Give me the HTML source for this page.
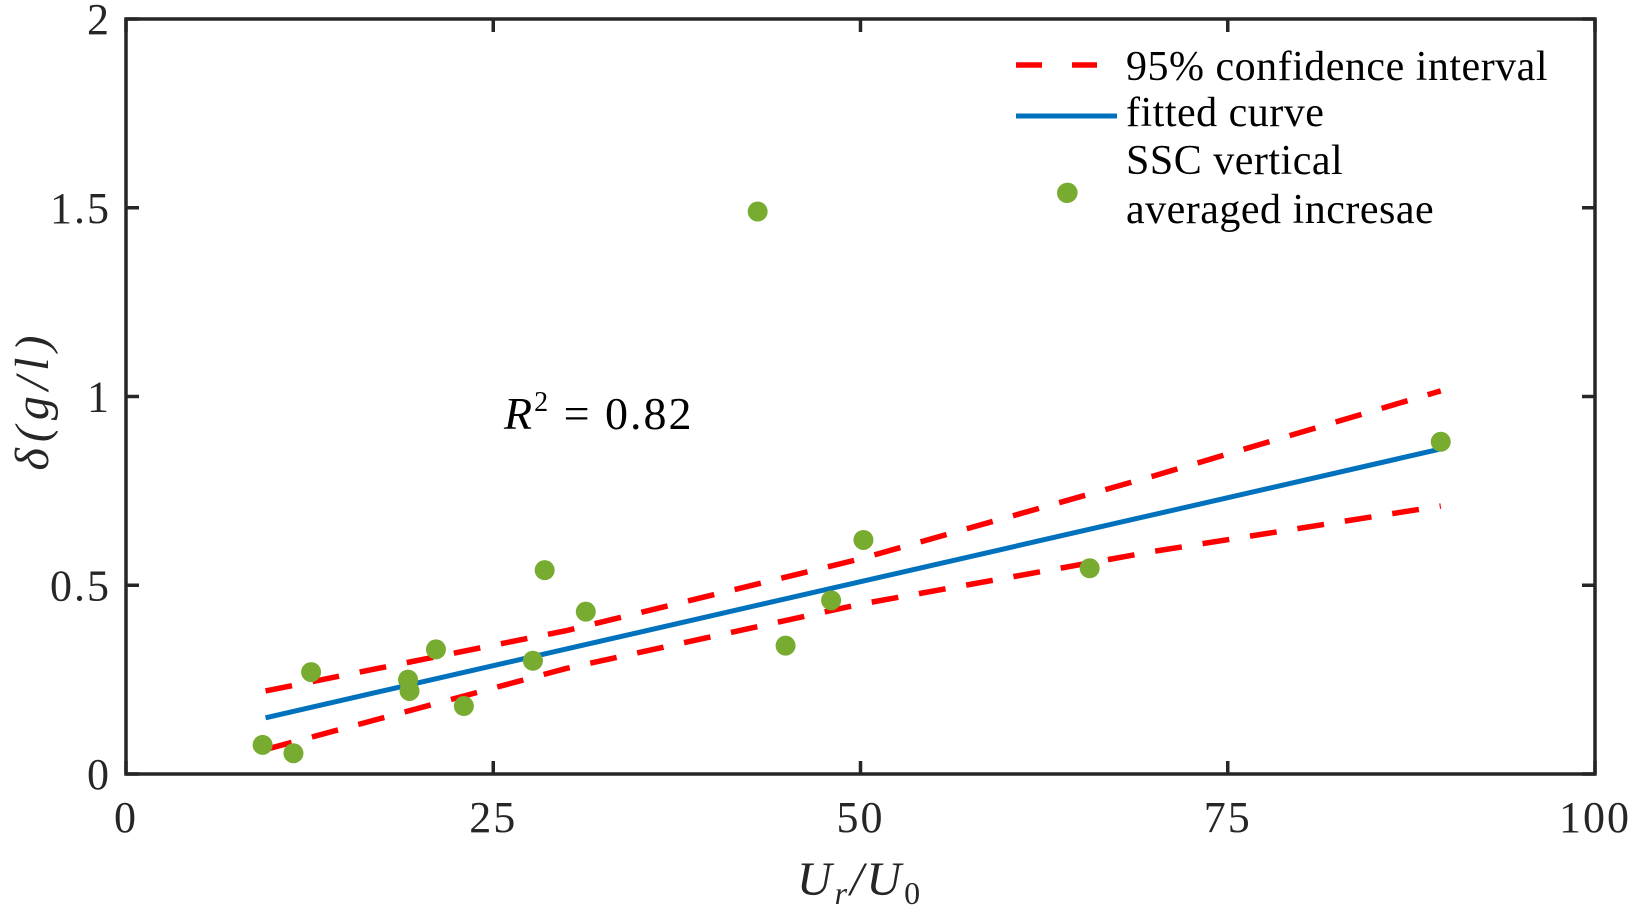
<!DOCTYPE html>
<html><head><meta charset="utf-8"><style>
html,body{margin:0;padding:0;background:#fff;}
svg{display:block;font-family:"Liberation Serif",serif;}
</style></head><body>
<svg id="chart" width="1629" height="908" viewBox="0 0 1629 908" xmlns="http://www.w3.org/2000/svg">
<g id="plot"></g>
</svg>
<script>
const xVals=[9.3,11.4,12.6,19.2,19.3,21.1,23.0,27.7,28.5,31.3,43.0,44.9,48.0,50.2,64.1,65.6,89.5];
const yVals=[0.077,0.055,0.27,0.25,0.22,0.33,0.18,0.30,0.54,0.43,1.49,0.34,0.46,0.62,1.54,0.545,0.88];
const fitX=[9.5,89.5];
const fitY=[0.149,0.861];
const upperX=[9.5,30,50,70,89.5];
const upperY=[0.22,0.38,0.57,0.79,1.015];
const lowerX=[9.5,30,50,70,89.5];
const lowerY=[0.065,0.28,0.45,0.59,0.71];
const xTicks=[0,25,50,75,100];
const xTickLabels=['0','25','50','75','100'];
const yTicks=[0,0.5,1,1.5,2];
const yTickLabels=['0','0.5','1','1.5','2'];

const L=126,R=1595,T=19,B=774;
const sx=v=>L+(v/100)*(R-L);
const sy=v=>B-(v/2)*(B-T);
const NS='http://www.w3.org/2000/svg';
const g=document.getElementById('plot');
function mk(tag,attrs,parent){const e=document.createElementNS(NS,tag);for(const k in attrs)e.setAttribute(k,attrs[k]);(parent||g).appendChild(e);return e;}

function poly(xs,ys,name,color,dash,w){
  const e=mk('polyline',{points:xs.map((x,i)=>sx(x)+','+sy(ys[i])).join(' '),fill:'none',stroke:color,'stroke-width':w,'stroke-dasharray':dash||'none'});
  
  
}
poly(upperX,upperY,'ci-upper-line','#ff0000','27,21',5.5);
poly(lowerX,lowerY,'ci-lower-line','#ff0000','27,21',5.5);
poly(fitX,fitY,'fitted-line','#0072bd','',5);

xVals.forEach((x,i)=>{
  const c=mk('circle',{cx:sx(x),cy:sy(yVals[i]),r:10,fill:'#77ac30'});
  
  
});

const box=mk('rect',{x:L,y:T,width:R-L,height:B-T,fill:'none',stroke:'#262626','stroke-width':3.5});



xTicks.forEach((v,i)=>{
  const x=sx(v);
  mk('line',{x1:x,y1:B,x2:x,y2:B-13,stroke:'#262626','stroke-width':3.5});
  mk('line',{x1:x,y1:T,x2:x,y2:T+13,stroke:'#262626','stroke-width':3.5});
  const t=mk('text',{x:x,y:832,'font-size':44,'letter-spacing':2,'text-anchor':'middle',fill:'#262626'});
  t.textContent=xTickLabels[i];
  
  
});
yTicks.forEach((v,i)=>{
  const y=sy(v);
  mk('line',{x1:L,y1:y,x2:L+13,y2:y,stroke:'#262626','stroke-width':3.5});
  mk('line',{x1:R,y1:y,x2:R-13,y2:y,stroke:'#262626','stroke-width':3.5});
  const t=mk('text',{x:111,y:y+15,'font-size':44,'letter-spacing':2,'text-anchor':'end',fill:'#262626'});
  t.textContent=yTickLabels[i];
  
  
});
</script>
<svg style="position:absolute;left:0;top:0" width="1629" height="908" viewBox="0 0 1629 908" xmlns="http://www.w3.org/2000/svg">
<text x="860" y="895" font-size="48" font-style="italic" letter-spacing="3" text-anchor="middle" fill="#262626">U<tspan font-size="32" dy="9">r</tspan><tspan dy="-9">/U</tspan><tspan font-size="32" dy="9" font-style="normal">0</tspan></text>
<text transform="translate(48,400) rotate(-90)" font-size="48" font-style="italic" letter-spacing="6" text-anchor="middle" fill="#262626">δ(g/l)</text>
<text x="504" y="429" font-size="46" letter-spacing="2" fill="#000"><tspan font-style="italic">R</tspan><tspan font-size="28" dy="-18">2</tspan><tspan dy="18"> = 0.82</tspan></text>
<g>
<line x1="1016" y1="65" x2="1097" y2="65" stroke="#ff0000" stroke-width="5.5" stroke-dasharray="26,30"/>
<text x="1126" y="80" font-size="42" letter-spacing="0.5" fill="#000">95% confidence interval</text>
<line x1="1016" y1="116" x2="1117" y2="116" stroke="#0072bd" stroke-width="5"/>
<text x="1126" y="126" font-size="42" letter-spacing="0.5" fill="#000">fitted curve</text>
<circle cx="1067" cy="193" r="10" fill="#77ac30"/>
<text x="1126" y="174" font-size="42" letter-spacing="0.5" fill="#000">SSC vertical</text>
<text x="1126" y="223" font-size="42" letter-spacing="0.5" fill="#000">averaged incresae</text>
</g>
</svg>
</body></html>
